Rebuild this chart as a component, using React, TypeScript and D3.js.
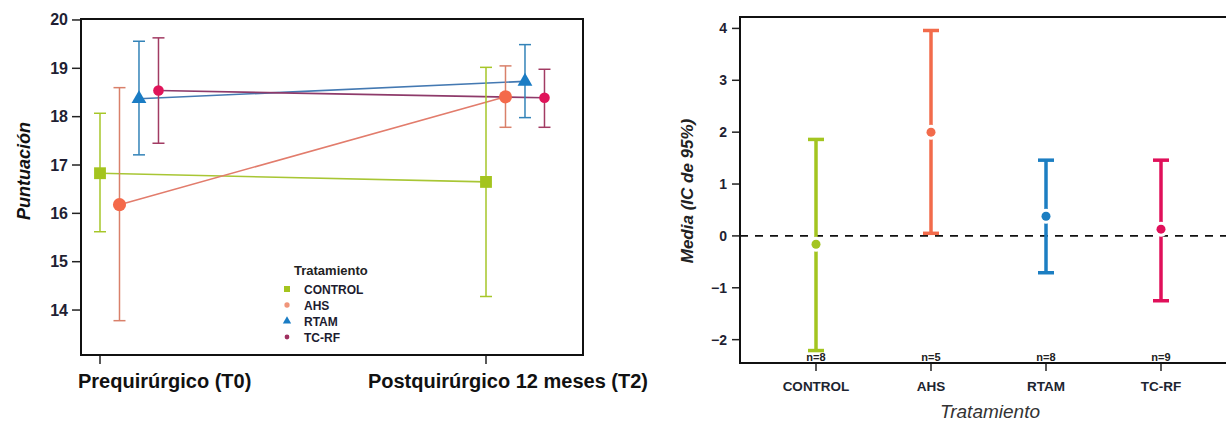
// App.tsx
import React, { useEffect, useRef } from "react";
import * as d3 from "d3";

// categories
const treatments = ["CONTROL", "AHS", "RTAM", "TC-RF"];
const timepoints = ["Prequirúrgico (T0)", "Postquirúrgico 12 meses (T2)"];

// left chart: score per treatment at T0 and T2 (mean, lower, upper)
const meanT0 = [16.83, 16.18, 18.37, 18.54];
const lowT0 = [15.62, 13.78, 17.21, 17.45];
const highT0 = [18.07, 18.6, 19.56, 19.63];
const meanT2 = [16.65, 18.41, 18.73, 18.39];
const lowT2 = [14.28, 17.78, 17.98, 17.78];
const highT2 = [19.02, 19.05, 19.49, 18.98];
const leftTicks = [14, 15, 16, 17, 18, 19, 20];

// right chart: mean difference with 95% CI
const diffMean = [-0.16, 2.0, 0.38, 0.13];
const diffLow = [-2.21, 0.05, -0.71, -1.25];
const diffHigh = [1.86, 3.96, 1.46, 1.46];
const groupN = ["n=8", "n=5", "n=8", "n=9"];
const rightTicks = [-2, -1, 0, 1, 2, 3, 4];

const pointColors = ["#a4c41e", "#f4694a", "#1a7cc4", "#e0145a"];
const barColors = ["#a6c628", "#d9806a", "#3383b8", "#a23b63"];
const lineColors = ["#a8c634", "#e27c6c", "#4479b2", "#8e3a6a"];
const legendColors = ["#a4c41e", "#f0957a", "#1a7cc4", "#a03060"];
const diffColors = ["#a3c520", "#f26b4b", "#1c7ec2", "#e0105a"];
const symbols = [d3.symbolSquare, d3.symbolCircle, d3.symbolTriangle, d3.symbolCircle];
const symbolSizes = [140, 135, 95, 88];
const legendSizes = [36, 22, 30, 18];

const FONT = "'Liberation Sans', Arial, sans-serif";
const fmt = (d: number) => (d < 0 ? "\u2212" + Math.abs(d) : String(d));

const App = () => {
  const ref = useRef<SVGSVGElement>(null);

  useEffect(() => {
    const svg = d3.select(ref.current);
    svg.selectAll("*").remove();
    svg.style("font-family", FONT);

    // ---------- left chart ----------
    const L = { left: 81, right: 583, top: 19, bottom: 355 };
    const y1 = d3.scaleLinear().domain([13.07, 20.02]).range([L.bottom, L.top]);
    const x1 = d3.scaleLinear().domain([0, 1]).range([100, 486]);
    const dodge = 0.0505;

    const left = svg.append("g");

    // y ticks
    left.selectAll(".yt").data(leftTicks).enter().append("line")
      .attr("x1", L.left - 9).attr("x2", L.left)
      .attr("y1", d => y1(d)).attr("y2", d => y1(d))
      .attr("stroke", "#222").attr("stroke-width", 1.5);
    left.selectAll(".yl").data(leftTicks).enter().append("text")
      .attr("x", L.left - 13).attr("y", d => y1(d) + 5.5)
      .attr("text-anchor", "end").attr("font-size", 16).attr("font-weight", "bold")
      .attr("fill", "#1f1f33").text(d => d);

    // x ticks + labels
    left.selectAll(".xt").data([0, 1]).enter().append("line")
      .attr("x1", d => x1(d)).attr("x2", d => x1(d))
      .attr("y1", L.bottom).attr("y2", L.bottom + 9)
      .attr("stroke", "#222").attr("stroke-width", 1.5);
    left.append("text")
      .attr("x", x1(0) - 22).attr("y", 388)
      .attr("font-size", 20).attr("font-weight", "bold").attr("fill", "#111")
      .text(timepoints[0]);
    left.append("text")
      .attr("x", x1(1) + 162).attr("y", 388).attr("text-anchor", "end")
      .attr("font-size", 20).attr("font-weight", "bold").attr("fill", "#111")
      .text(timepoints[1]);

    left.append("text")
      .attr("transform", "translate(30,171) rotate(-90)")
      .attr("text-anchor", "middle").attr("font-size", 18)
      .attr("font-weight", "bold").attr("font-style", "italic").attr("fill", "#111")
      .text("Puntuación");

    // connecting lines
    treatments.forEach((_, i) => {
      left.append("line")
        .attr("x1", x1(0 + i * dodge)).attr("y1", y1(meanT0[i]))
        .attr("x2", x1(1 + i * dodge)).attr("y2", y1(meanT2[i]))
        .attr("stroke", lineColors[i]).attr("stroke-width", 1.6);
    });

    // error bars
    const bars = [
      ...treatments.map((_, i) => ({ i, t: 0, lo: lowT0[i], hi: highT0[i], m: meanT0[i] })),
      ...treatments.map((_, i) => ({ i, t: 1, lo: lowT2[i], hi: highT2[i], m: meanT2[i] })),
    ];
    bars.forEach(b => {
      const cx = x1(b.t + b.i * dodge);
      const g = left.append("g").attr("stroke", barColors[b.i]).attr("stroke-width", 1.5);
      g.append("line").attr("x1", cx).attr("x2", cx).attr("y1", y1(b.lo)).attr("y2", y1(b.hi));
      g.append("line").attr("x1", cx - 6).attr("x2", cx + 6).attr("y1", y1(b.lo)).attr("y2", y1(b.lo));
      g.append("line").attr("x1", cx - 6).attr("x2", cx + 6).attr("y1", y1(b.hi)).attr("y2", y1(b.hi));
    });
    bars.forEach(b => {
      const cx = x1(b.t + b.i * dodge);
      left.append("path")
        .attr("d", d3.symbol().type(symbols[b.i]).size(symbolSizes[b.i])())
        .attr("transform", `translate(${cx},${y1(b.m)})`)
        .attr("fill", pointColors[b.i]);
    });

    // frame
    left.append("rect")
      .attr("x", L.left).attr("y", L.top)
      .attr("width", L.right - L.left).attr("height", L.bottom - L.top)
      .attr("fill", "none").attr("stroke", "#111").attr("stroke-width", 2);

    // legend
    const lg = left.append("g").attr("transform", "translate(287,270)");
    lg.append("text").attr("x", 7).attr("y", 4.5)
      .attr("font-size", 13).attr("font-weight", "bold").attr("fill", "#222")
      .text("Tratamiento");
    treatments.forEach((t, i) => {
      const yy = 19 + i * 16;
      lg.append("path")
        .attr("d", d3.symbol().type(symbols[i]).size(legendSizes[i])())
        .attr("transform", `translate(0,${yy})`)
        .attr("fill", legendColors[i]);
      lg.append("text").attr("x", 17).attr("y", yy + 4.5)
        .attr("font-size", 12).attr("font-weight", "bold").attr("fill", "#1c1c30")
        .text(t);
    });

    // ---------- right chart ----------
    const R = { left: 740, right: 1227, top: 17, bottom: 363 };
    const y2 = d3.scaleLinear().domain([-2.45, 4.22]).range([R.bottom, R.top]);
    const x2 = d3.scaleLinear().domain([0, 3]).range([816, 1161]);

    const right = svg.append("g");

    right.selectAll(".yt").data(rightTicks).enter().append("line")
      .attr("x1", R.left - 8).attr("x2", R.left)
      .attr("y1", d => y2(d)).attr("y2", d => y2(d))
      .attr("stroke", "#222").attr("stroke-width", 1.5);
    right.selectAll(".yl").data(rightTicks).enter().append("text")
      .attr("x", R.left - 13).attr("y", d => y2(d) + 5)
      .attr("text-anchor", "end").attr("font-size", 14).attr("font-weight", "bold")
      .attr("fill", "#1f1f33").text(d => fmt(d));

    right.selectAll(".xt").data(treatments).enter().append("line")
      .attr("x1", (_, i) => x2(i)).attr("x2", (_, i) => x2(i))
      .attr("y1", R.bottom).attr("y2", R.bottom + 8)
      .attr("stroke", "#222").attr("stroke-width", 1.5);
    right.selectAll(".xl").data(treatments).enter().append("text")
      .attr("x", (_, i) => x2(i)).attr("y", 391)
      .attr("text-anchor", "middle").attr("font-size", 13.5).attr("font-weight", "bold")
      .attr("fill", "#1c2430").text(d => d);
    right.selectAll(".nl").data(groupN).enter().append("text")
      .attr("x", (_, i) => x2(i)).attr("y", 361)
      .attr("text-anchor", "middle").attr("font-size", 11).attr("font-weight", "bold")
      .attr("fill", "#222").text(d => d);

    right.append("text")
      .attr("x", 990).attr("y", 418).attr("text-anchor", "middle")
      .attr("font-size", 19).attr("font-style", "italic").attr("fill", "#333")
      .text("Tratamiento");
    right.append("text")
      .attr("transform", "translate(693,191) rotate(-90)")
      .attr("text-anchor", "middle").attr("font-size", 17)
      .attr("font-weight", "bold").attr("font-style", "italic").attr("fill", "#222")
      .text("Media (IC de 95%)");

    // reference line at 0
    right.append("line")
      .attr("x1", R.left).attr("x2", R.right)
      .attr("y1", y2(0)).attr("y2", y2(0))
      .attr("stroke", "#111").attr("stroke-width", 1.6)
      .attr("stroke-dasharray", "8,7");

    treatments.forEach((_, i) => {
      const cx = x2(i);
      const g = right.append("g").attr("stroke", diffColors[i]).attr("stroke-width", 3.5);
      g.append("line").attr("x1", cx).attr("x2", cx).attr("y1", y2(diffLow[i])).attr("y2", y2(diffHigh[i]));
      g.append("line").attr("x1", cx - 8).attr("x2", cx + 8).attr("y1", y2(diffLow[i])).attr("y2", y2(diffLow[i]));
      g.append("line").attr("x1", cx - 8).attr("x2", cx + 8).attr("y1", y2(diffHigh[i])).attr("y2", y2(diffHigh[i]));
      right.append("circle").attr("cx", cx).attr("cy", y2(diffMean[i])).attr("r", 7.5).attr("fill", "#fff");
      right.append("circle").attr("cx", cx).attr("cy", y2(diffMean[i])).attr("r", 4.5).attr("fill", diffColors[i]);
    });

    right.append("path")
      .attr("d", `M${R.right},${R.top}H${R.left}V${R.bottom}H${R.right}`)
      .attr("fill", "none").attr("stroke", "#111").attr("stroke-width", 2);
  }, []);

  return (
    <svg
      ref={ref}
      width={1226}
      height={423}
      style={{ position: "absolute", left: 0, top: 0, background: "#fff" }}
    />
  );
};

export default App;
